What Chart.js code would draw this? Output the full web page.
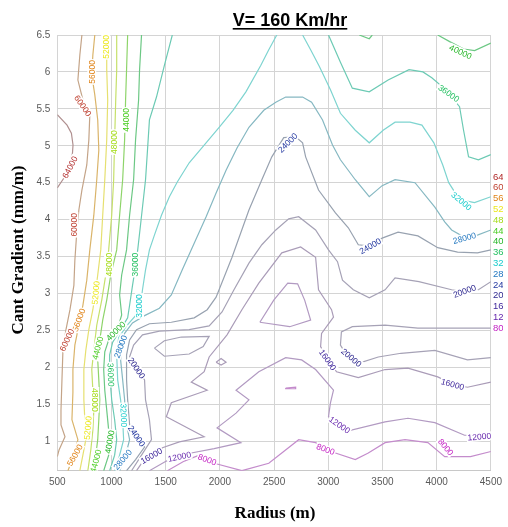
<!DOCTYPE html>
<html><head><meta charset="utf-8">
<script src="https://cdn.jsdelivr.net/npm/chart.js@4"></script>
<style>html,body{margin:0;padding:0;background:#fff}#wrap{width:508px;height:527px}</style>
</head><body><div id="wrap"><canvas id="c" width="508" height="527"></canvas></div>
<script>
// ---------- data (Radius m, Cant gradient mm/m) ----------
const xTicks = [500,1000,1500,2000,2500,3000,3500,4000,4500];
const yTicks = [1,1.5,2,2.5,3,3.5,4,4.5,5,5.5,6,6.5];
const levels = [64000,60000,56000,52000,48000,44000,40000,36000,32000,28000,24000,20000,16000,12000,8000];

const c64000 = [[500,5.42],[590,5.28],[630,5.17],[645,5.01],[640,4.90],[600,4.70],[555,4.55],[500,4.43]];
const c60000 = [[727,6.50],[708,6.23],[690,5.89],[736,5.62],[800,5.42],[791,5.08],[772,4.74],[727,4.40],[699,4.13],[681,3.86],[662,3.45],[653,3.11],[617,2.78],[580,2.51],[552,2.23],[543,1.83],[534,1.42],[534,1.22],[571,1.06],[516,0.88],[500,0.79]];
const c56000 = [[846,6.50],[828,6.23],[818,5.96],[846,5.69],[873,5.35],[883,4.94],[864,4.54],[837,4.06],[800,3.59],[772,3.18],[736,2.84],[699,2.57],[662,2.30],[644,1.97],[644,1.66],[635,1.29],[690,1.02],[653,0.81],[598,0.60]];
const c52000 = [[956,6.50],[956,6.03],[965,5.62],[956,5.08],[938,4.54],[919,4.06],[901,3.59],[873,3.25],[855,3.05],[828,2.78],[791,2.51],[763,2.23],[745,1.97],[745,1.56],[754,1.29],[763,1.02],[736,0.81],[708,0.60]];
const c48000 = [[1048,6.50],[1048,6.03],[1039,5.62],[1029,5.08],[1020,4.54],[1002,4.06],[974,3.59],[947,3.25],[910,2.91],[864,2.57],[837,2.23],[818,1.97],[828,1.69],[837,1.42],[828,1.15],[809,0.88],[782,0.60]];
const c44000 = [[1149,6.50],[1139,6.03],[1130,5.62],[1121,5.08],[1103,4.54],[1075,4.06],[1048,3.59],[993,3.25],[956,2.91],[919,2.64],[892,2.37],[873,2.10],[883,1.83],[892,1.56],[883,1.29],[873,1.02],[855,0.81],[837,0.60]];
const c40000a = [[1277,6.50],[1259,6.03],[1250,5.62],[1222,5.08],[1204,4.54],[1167,4.06],[1139,3.59],[1094,3.25],[1075,2.98],[1094,2.71],[1057,2.53],[974,2.37],[938,2.21],[928,1.97],[938,1.69],[956,1.42],[974,1.15],[974,0.81],[928,0.60]];
const c40000b = [[4010,6.50],[4120,6.41],[4250,6.31],[4350,6.29],[4500,6.39]];
const c40000c = [[3286,6.50],[3378,6.45],[3406,6.50]];
const c36000a = [[1561,6.50],[1488,6.09],[1415,5.66],[1350,5.35],[1332,4.94],[1314,4.54],[1268,3.93],[1231,3.45],[1194,3.11],[1167,2.84],[1149,2.67],[1084,2.51],[1011,2.34],[983,2.17],[983,1.90],[1002,1.56],[1029,1.29],[1048,1.02],[1029,0.81],[983,0.60]];
const c36000b = [[3002,6.50],[3112,6.13],[3222,5.78],[3378,5.73],[3552,5.89],[3745,6.03],[3873,6.00],[3955,5.92],[4083,5.76],[4211,5.53],[4248,5.21],[4294,4.85],[4385,4.81],[4500,4.88]];
const c32000a = [[2525,6.50],[2451,6.30],[2378,6.09],[2240,5.73],[2121,5.48],[1993,5.25],[1855,5.01],[1717,4.77],[1607,4.51],[1534,4.31],[1461,4.06],[1396,3.79],[1350,3.59],[1314,3.32],[1286,3.05],[1268,2.84],[1222,2.70],[1139,2.56],[1066,2.40],[1048,2.17],[1057,1.83],[1084,1.56],[1103,1.29],[1112,1.02],[1075,0.81],[1029,0.60]];
const c32000b = [[2763,6.50],[2837,6.30],[2919,6.07],[3020,5.76],[3112,5.44],[3249,5.21],[3378,5.04],[3506,5.21],[3616,5.32],[3754,5.32],[3864,5.28],[3974,5.04],[4056,4.74],[4111,4.50],[4211,4.27],[4349,4.23],[4500,4.31]];
const c28000 = [[1075,0.60],[1130,0.81],[1167,1.02],[1130,1.29],[1121,1.56],[1103,1.83],[1084,2.10],[1094,2.30],[1121,2.46],[1194,2.60],[1305,2.70],[1442,2.80],[1552,2.98],[1653,3.32],[1763,3.68],[1873,4.04],[1965,4.36],[2057,4.67],[2158,4.97],[2268,5.25],[2405,5.48],[2516,5.59],[2607,5.66],[2763,5.66],[2846,5.59],[2947,5.35],[3039,5.01],[3112,4.81],[3249,4.54],[3378,4.31],[3497,4.46],[3616,4.54],[3800,4.50],[3983,4.17],[4074,3.97],[4138,3.86],[4257,3.76],[4376,3.79],[4500,3.86]];
const c24000 = [[1139,0.60],[1222,0.75],[1305,0.92],[1167,1.22],[1149,1.56],[1139,1.83],[1139,2.17],[1167,2.37],[1231,2.51],[1350,2.59],[1552,2.61],[1763,2.67],[1883,2.78],[1965,2.95],[2112,3.49],[2268,4.13],[2387,4.54],[2479,4.85],[2589,5.11],[2699,5.12],[2763,5.04],[2791,4.85],[2910,4.40],[3066,4.09],[3185,3.89],[3277,3.66],[3387,3.64],[3497,3.75],[3644,3.83],[3827,3.78],[4010,3.62],[4193,3.56],[4376,3.55],[4500,3.59]];
const c20000a = [[1185,0.60],[1277,0.81],[1369,1.02],[1350,1.29],[1314,1.56],[1305,1.83],[1167,2.14],[1204,2.30],[1286,2.44],[1442,2.49],[1717,2.51],[1901,2.56],[2020,2.75],[2130,3.05],[2268,3.41],[2387,3.66],[2516,3.86],[2635,4.01],[2727,4.04],[2883,3.86],[3002,3.59],[3085,3.43],[3131,3.18],[3231,3.05],[3378,2.94],[3524,3.05],[3616,3.21],[3836,3.16],[4138,3.05],[4266,3.02],[4385,3.05],[4500,3.16]];
const c20000b = [[4500,2.53],[4138,2.53],[3827,2.53],[3524,2.57],[3222,2.55],[3121,2.48],[3112,2.30],[3185,2.13],[3314,2.07],[3461,2.14],[3671,2.19],[3983,2.23],[4284,2.10],[4500,2.13]];
const c20000c = [[1396,2.26],[1488,2.36],[1644,2.41],[1901,2.42],[1846,2.28],[1717,2.18],[1488,2.15],[1396,2.26]];
const c16000a = [[1231,0.60],[1277,0.70],[1470,0.91],[1626,0.99],[1855,1.06],[1506,1.33],[1552,1.52],[1883,1.69],[1736,1.80],[1855,1.94],[1901,2.14],[2066,2.44],[2203,2.78],[2359,3.14],[2571,3.55],[2745,3.63],[2883,3.49],[2910,3.05],[3030,2.78],[3048,2.68],[2938,2.46],[2929,2.28],[3002,2.10],[3076,1.94],[3277,1.86],[3524,1.97],[3735,1.99],[4010,1.87],[4147,1.77],[4284,1.73],[4500,1.80]];
const c16000b = [[1965,2.07],[2011,2.12],[2057,2.07],[2011,2.03],[1965,2.07]];
const c12000a = [[2369,2.61],[2497,2.91],[2626,3.14],[2717,3.13],[2782,2.91],[2837,2.64],[2644,2.55],[2369,2.61]];
const c12000b = [[1350,0.60],[1506,0.73],[1736,0.84],[1947,0.90],[2194,0.98],[1974,1.18],[2149,1.38],[2268,1.56],[2149,1.69],[2359,1.94],[2607,2.13],[2754,2.10],[2883,1.97],[3048,1.69],[3020,1.52],[3002,1.33],[3213,1.15],[3524,1.26],[3735,1.31],[3983,1.25],[4257,1.08],[4500,1.08]];
const c8000a = [[1516,0.60],[1672,0.73],[1791,0.80],[1974,0.69],[2203,0.60],[2451,0.70],[2727,1.02],[2883,0.98],[3066,0.84],[3249,0.75],[3369,0.84],[3524,0.98],[3708,1.02],[3919,0.98],[4074,0.79],[4312,0.79],[4500,0.86]];
const c8000b = [[2607,1.72],[2699,1.73],[2699,1.71],[2607,1.71],[2607,1.72]];

// inline contour labels: text, radius, cant gradient, angle(deg)
const contourLabels = [
 ['64000',617,4.71,-62],['60000',736,5.54,55],['56000',818,6.00,-90],['52000',947,6.34,-90],
 ['48000',1029,5.05,-90],['44000',1139,5.35,-90],['60000',653,3.93,-90],['48000',974,3.39,-90],
 ['36000',1222,3.39,-90],['52000',855,3.01,-85],['32000',1259,2.83,-90],['56000',699,2.64,-70],
 ['60000',589,2.37,-65],['40000',1039,2.49,-45],['44000',873,2.26,-75],['28000',1084,2.28,-70],
 ['20000',1231,1.99,55],['36000',993,1.90,88],['48000',846,1.56,90],['32000',1112,1.35,88],
 ['24000',1231,1.07,55],['52000',782,1.18,-85],['40000',983,0.99,-80],['56000',662,0.81,-60],
 ['44000',855,0.73,-75],['28000',1103,0.75,-50],['16000',1369,0.80,-30],['12000',1626,0.79,-12],
 ['8000',1883,0.75,20],['24000',2626,5.04,-45],['24000',3387,3.64,-30],['28000',4257,3.75,-15],
 ['32000',4229,4.25,40],['36000',4111,5.71,35],['40000',4220,6.27,25],['20000',4257,3.03,-20],
 ['20000',3213,2.13,40],['16000',2994,2.10,55],['16000',4147,1.77,15],['12000',3103,1.22,35],
 ['12000',4394,1.06,-5],['8000',2975,0.89,20],['8000',4083,0.92,50]
];

// ---------- styles ----------
const lineColors = {64000:'#b09090',60000:'#c4a488',56000:'#dab46a',52000:'#e6e070',48000:'#c6e06a',44000:'#8ed46a',40000:'#6cc884',36000:'#6ccab4',32000:'#7ed4d0',28000:'#86b8c2',24000:'#98a2b0',20000:'#a6a2b6',16000:'#aa9cb8',12000:'#b29ac2',8000:'#c48ccc'};
const textColors = {64000:'#b02828',60000:'#c04434',56000:'#e08418',52000:'#ece81c',48000:'#a4dc18',44000:'#48cc20',40000:'#22b624',36000:'#22c060',32000:'#18cccc',28000:'#2478c0',24000:'#2438a0',20000:'#302a90',16000:'#40289c',12000:'#6424ac',8000:'#c424c4'};

const contours = [
 [64000,c64000],[60000,c60000],[56000,c56000],[52000,c52000],[48000,c48000],[44000,c44000],
 [40000,c40000a],[40000,c40000b],[40000,c40000c],[36000,c36000a],[36000,c36000b],
 [32000,c32000a],[32000,c32000b],[28000,c28000],[24000,c24000],
 [20000,c20000a],[20000,c20000b],[20000,c20000c],[16000,c16000a],[16000,c16000b],
 [12000,c12000a],[12000,c12000b],[8000,c8000a],[8000,c8000b]
];

const datasets = contours.map(([lv, pts]) => ({
  label: String(lv),
  data: pts.map(p => ({x:p[0], y:p[1]})),
  showLine: true, borderColor: lineColors[lv], borderWidth: 1.2,
  pointRadius: 0, fill: false, tension: 0
}));

const labelPlugin = {
  id: 'contourLabels',
  afterDatasetsDraw(chart) {
    const {ctx, chartArea:a, scales:{x, y}} = chart;
    ctx.save();
    ctx.beginPath(); ctx.rect(a.left, a.top, a.right-a.left, a.bottom-a.top); ctx.clip();
    ctx.font = '8.5px "Liberation Sans", Arial, sans-serif';
    ctx.textAlign = 'center'; ctx.textBaseline = 'middle';
    contourLabels.forEach(([t, rx, cg, ang]) => {
      const px = x.getPixelForValue(rx), py = y.getPixelForValue(cg);
      const w = ctx.measureText(t).width;
      ctx.save(); ctx.translate(px, py); ctx.rotate(ang*Math.PI/180);
      ctx.fillStyle = '#ffffff'; ctx.fillRect(-w/2-1, -4.5, w+2, 9);
      ctx.fillStyle = textColors[+t]; ctx.fillText(t, 0, 0.5);
      ctx.restore();
    });
    ctx.restore();
  },
  afterDraw(chart) {
    const {ctx, chartArea:a} = chart;
    ctx.save();
    // title
    ctx.font = 'bold 18px "Liberation Sans", Arial, sans-serif';
    ctx.fillStyle = '#000'; ctx.textAlign = 'center'; ctx.textBaseline = 'alphabetic';
    const title = 'V= 160 Km/hr';
    const tw = ctx.measureText(title).width;
    ctx.fillText(title, 290, 26);
    ctx.fillRect(290 - tw/2, 28, tw, 1.6);
    // axis titles
    ctx.font = 'bold 17px "Liberation Serif", "Times New Roman", serif';
    ctx.textBaseline = 'middle';
    ctx.fillText('Radius (m)', 275, 514);
    ctx.save(); ctx.translate(19, 250); ctx.rotate(-Math.PI/2);
    ctx.fillText('Cant Gradient (mm/m)', 0, 0); ctx.restore();
    // level key at right edge (cut off by the picture edge)
    ctx.save();
    ctx.beginPath(); ctx.rect(a.right + 1, 150, 503 - a.right - 1, 200); ctx.clip();
    ctx.font = '9.5px "Liberation Sans", Arial, sans-serif';
    ctx.textAlign = 'left';
    levels.forEach((lv, i) => {
      ctx.fillStyle = textColors[lv];
      ctx.fillText(String(lv), a.right + 2, 177 + i*10.8);
    });
    ctx.restore();
    ctx.restore();
  }
};

new Chart(document.getElementById('c'), {
  type: 'scatter',
  data: { datasets },
  options: {
    responsive: false, animation: false, devicePixelRatio: 1,
    layout: { padding: { left: 0, right: 15, top: 35, bottom: 0 } },
    plugins: { legend: { display: false }, tooltip: { enabled: false }, title: { display: false } },
    scales: {
      x: {
        type: 'linear', min: 500, max: 4500,
        afterFit(s) { s.height = 56.3; },
        afterBuildTicks(s) { s.ticks = xTicks.map(v => ({value: v})); },
        grid: { color: '#d4d4d4', lineWidth: 1, drawTicks: false },
        border: { color: '#c8c8c8' },
        ticks: { padding: 6, color: '#595959', font: { family: '"Liberation Sans", Arial, sans-serif', size: 10 },
                 callback: v => String(v) }
      },
      y: {
        type: 'linear', min: 0.6, max: 6.5,
        afterFit(s) { s.width = 57.3; },
        afterBuildTicks(s) { s.ticks = yTicks.map(v => ({value: v})); },
        grid: { color: '#d4d4d4', lineWidth: 1, drawTicks: false },
        border: { display: false },
        ticks: { padding: 7, color: '#595959', font: { family: '"Liberation Sans", Arial, sans-serif', size: 10 },
                 callback: v => String(v) }
      }
    }
  },
  plugins: [labelPlugin]
});
</script>
</body></html>
